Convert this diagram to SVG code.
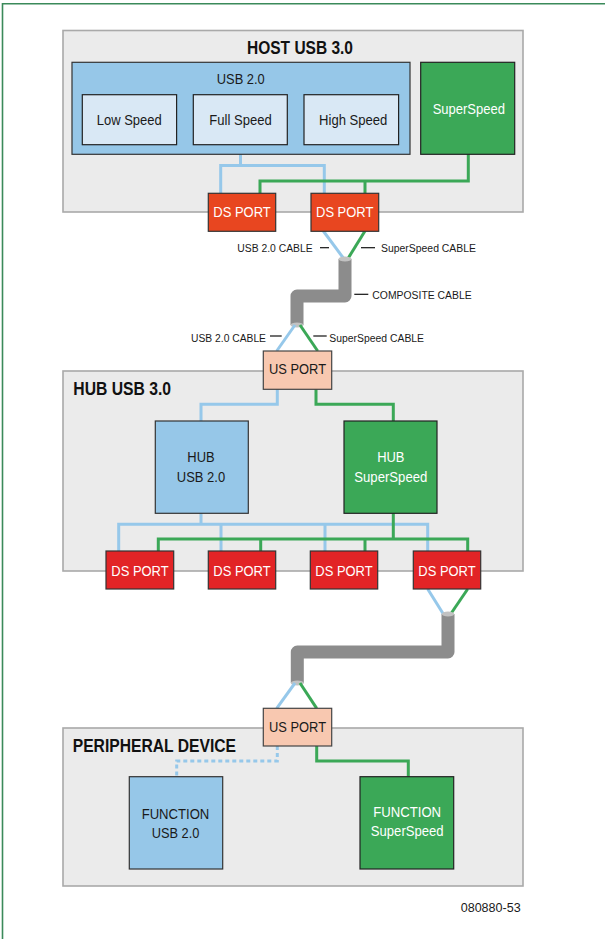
<svg xmlns="http://www.w3.org/2000/svg" width="605" height="939" viewBox="0 0 605 939">
<style>
.t{font-family:"Liberation Sans",Arial,sans-serif;text-anchor:middle;fill:#1a1a1a}
.st{text-anchor:start}
.title{font-weight:bold;font-size:17.5px;fill:#111}
.lbl{font-size:15.5px}
.sm{font-size:11.7px}
.w{fill:#ffffff}
.cont{fill:#ebebeb;stroke:#a9a9a9;stroke-width:1.6}
.blue{fill:#96c7e8;stroke:#333;stroke-width:1.2}
.inner{fill:#d9e8f5;stroke:#222;stroke-width:1.2}
.green{fill:#3ba857;stroke:#222;stroke-width:1.2}
.dsh{fill:#e84620;stroke:#333;stroke-width:1.2}
.dsr{fill:#e22426;stroke:#333;stroke-width:1.2}
.us{fill:#f8c8b0;stroke:#444;stroke-width:1.2}
.lb{fill:none;stroke:#96c8ea;stroke-width:3}
.lg{fill:none;stroke:#3ba857;stroke-width:3}
.cable{fill:none;stroke:#8c8c8c;stroke-width:13;stroke-linejoin:round}
.cap{fill:#c2c2c2}
.dash{stroke:#111;stroke-width:1.2}
</style>
<path d="M2.5,939 V3.8 H605" fill="none" stroke="#3b8a5a" stroke-width="1.6"/>

<g id="host">
<rect class="cont" x="63" y="30.5" width="460" height="181.5"/>
<text class="t title" x="300" y="53.5" textLength="106" lengthAdjust="spacingAndGlyphs">HOST USB 3.0</text>
</g>
<g id="hub">
<rect class="cont" x="63" y="371" width="460" height="200"/>
<text class="t st title" x="73.3" y="395" textLength="97.7" lengthAdjust="spacingAndGlyphs">HUB USB 3.0</text>
</g>
<g id="peripheral">
<rect class="cont" x="63" y="728" width="460" height="158"/>
<text class="t st title" x="72.7" y="751.7" textLength="163.3" lengthAdjust="spacingAndGlyphs">PERIPHERAL DEVICE</text>
</g>

<g id="connectors">
<!-- host -->
<path class="lb" d="M240.5,154 V165.5 H220.7 V193 M240.5,165.5 H324.3 V193"/>
<path class="lg" d="M468.3,154 V181 H260 V193 M365,181 V193"/>
<!-- cable 1 -->
<path class="lb" d="M323.3,231 L343.3,258"/>
<path class="lg" d="M365,231 L348.3,258"/>
<path class="cable" d="M345,259 V296 H297 V325"/>
<ellipse class="cap" cx="345" cy="259" rx="6.5" ry="2.5"/>
<ellipse class="cap" cx="297" cy="325" rx="6.5" ry="2.5"/>
<path class="lb" d="M295,325 L276.7,351"/>
<path class="lg" d="M300,325 L317.7,351"/>
<line class="dash" x1="320" y1="247.7" x2="329" y2="247.7"/>
<line class="dash" x1="361" y1="247.7" x2="375" y2="247.7"/>
<line class="dash" x1="354.3" y1="294.3" x2="368.3" y2="294.3"/>
<line class="dash" x1="270" y1="336" x2="281.7" y2="336"/>
<line class="dash" x1="313.3" y1="336" x2="326.7" y2="336"/>
<!-- hub -->
<path class="lb" d="M277.3,389 V404.3 H201 V421"/>
<path class="lg" d="M316,389 V404.3 H393.3 V421"/>
<path class="lb" d="M201,513 V524.3 M118.7,551 V524.3 H427.7 V551 M221,524.3 V551 M325,524.3 V551"/>
<path class="lg" d="M393.3,513 V539 M158.3,551 V539 H467.7 V551 M260.7,539 V551 M365,539 V551"/>
<!-- cable 2 -->
<path class="lb" d="M427.7,589 L443.3,614"/>
<path class="lg" d="M467.7,589 L450.7,614"/>
<path class="cable" d="M448,614 V652 H297.3 V683"/>
<ellipse class="cap" cx="448" cy="614" rx="6.2" ry="2.5"/>
<ellipse class="cap" cx="297.3" cy="683" rx="6.5" ry="2.5"/>
<path class="lb" d="M295,683 L276.7,708.3"/>
<path class="lg" d="M300,683 L316.7,708.3"/>
<!-- peripheral -->
<path class="lb" d="M277.3,746 V761 H176.7 V776.7" stroke-dasharray="4 3"/>
<path class="lg" d="M316.7,746 V761 H408.3 V776.7"/>
</g>

<g id="usb20">
<rect class="blue" x="72" y="62.3" width="338" height="92"/>
<text class="t lbl" x="240.8" y="84" textLength="48" lengthAdjust="spacingAndGlyphs">USB 2.0</text>
</g>
<g id="lowspeed">
<rect class="inner" x="82.3" y="94.7" width="94.3" height="50"/>
<text class="t lbl" x="129.2" y="124.5" textLength="65" lengthAdjust="spacingAndGlyphs">Low Speed</text>
</g>
<g id="fullspeed">
<rect class="inner" x="193.3" y="94.7" width="94" height="50"/>
<text class="t lbl" x="240.5" y="124.5" textLength="62.4" lengthAdjust="spacingAndGlyphs">Full Speed</text>
</g>
<g id="highspeed">
<rect class="inner" x="304" y="94.7" width="94.6" height="50"/>
<text class="t lbl" x="353.2" y="125.3" textLength="68.3" lengthAdjust="spacingAndGlyphs">High Speed</text>
</g>
<g id="superspeed">
<rect class="green" x="420.7" y="62.3" width="94" height="92"/>
<text class="t lbl w" x="468.8" y="114" textLength="72.3" lengthAdjust="spacingAndGlyphs">SuperSpeed</text>
</g>
<g id="host-ds1">
<rect class="dsh" x="208.3" y="193.3" width="67.4" height="38"/>
<text class="t lbl w" x="242" y="217" textLength="57.4" lengthAdjust="spacingAndGlyphs">DS PORT</text>
</g>
<g id="host-ds2">
<rect class="dsh" x="311" y="193.3" width="67.7" height="38"/>
<text class="t lbl w" x="344.7" y="217" textLength="57.3" lengthAdjust="spacingAndGlyphs">DS PORT</text>
</g>

<g id="cable-labels">
<text class="t sm" x="275" y="251.7" textLength="75.3" lengthAdjust="spacingAndGlyphs">USB 2.0 CABLE</text>
<text class="t sm" x="428.5" y="251.7" textLength="95" lengthAdjust="spacingAndGlyphs">SuperSpeed CABLE</text>
<text class="t sm" x="422" y="299" textLength="99.3" lengthAdjust="spacingAndGlyphs">COMPOSITE CABLE</text>
<text class="t sm" x="228.5" y="341.7" textLength="75" lengthAdjust="spacingAndGlyphs">USB 2.0 CABLE</text>
<text class="t sm" x="376.7" y="341.7" textLength="94.7" lengthAdjust="spacingAndGlyphs">SuperSpeed CABLE</text>
</g>

<g id="hub-us">
<rect class="us" x="263.3" y="351" width="68.4" height="38.3"/>
<text class="t lbl" x="297.5" y="374" textLength="57" lengthAdjust="spacingAndGlyphs">US PORT</text>
</g>
<g id="hub-usb20">
<rect class="blue" x="155.3" y="421" width="93" height="92.3"/>
<text class="t lbl" x="201" y="461.7" textLength="27.3" lengthAdjust="spacingAndGlyphs">HUB</text>
<text class="t lbl" x="201" y="481.7" textLength="48.3" lengthAdjust="spacingAndGlyphs">USB 2.0</text>
</g>
<g id="hub-ss">
<rect class="green" x="344" y="421" width="93" height="92.3"/>
<text class="t lbl w" x="390.8" y="461.7" textLength="27.3" lengthAdjust="spacingAndGlyphs">HUB</text>
<text class="t lbl w" x="390.8" y="481.7" textLength="73" lengthAdjust="spacingAndGlyphs">SuperSpeed</text>
</g>
<g id="hub-ds1">
<rect class="dsr" x="106" y="551" width="67.7" height="38"/>
<text class="t lbl w" x="140" y="575.5" textLength="57.3" lengthAdjust="spacingAndGlyphs">DS PORT</text>
</g>
<g id="hub-ds2">
<rect class="dsr" x="208.3" y="551" width="67.4" height="38"/>
<text class="t lbl w" x="242" y="575.5" textLength="57.3" lengthAdjust="spacingAndGlyphs">DS PORT</text>
</g>
<g id="hub-ds3">
<rect class="dsr" x="310.3" y="551" width="67.4" height="38"/>
<text class="t lbl w" x="344" y="575.5" textLength="57.3" lengthAdjust="spacingAndGlyphs">DS PORT</text>
</g>
<g id="hub-ds4">
<rect class="dsr" x="413.3" y="551" width="67.4" height="38"/>
<text class="t lbl w" x="447" y="575.5" textLength="57.3" lengthAdjust="spacingAndGlyphs">DS PORT</text>
</g>

<g id="dev-us">
<rect class="us" x="263.3" y="708.3" width="68.4" height="37.7"/>
<text class="t lbl" x="297.5" y="732" textLength="57" lengthAdjust="spacingAndGlyphs">US PORT</text>
</g>
<g id="func-usb20">
<rect class="blue" x="129.3" y="776.7" width="93.4" height="92.3"/>
<text class="t lbl" x="175.5" y="819" textLength="67.7" lengthAdjust="spacingAndGlyphs">FUNCTION</text>
<text class="t lbl" x="175.5" y="838.3" textLength="47.7" lengthAdjust="spacingAndGlyphs">USB 2.0</text>
</g>
<g id="func-ss">
<rect class="green" x="360" y="776.7" width="93.7" height="92.3"/>
<text class="t lbl w" x="407.2" y="816.7" textLength="67.7" lengthAdjust="spacingAndGlyphs">FUNCTION</text>
<text class="t lbl w" x="407.2" y="836" textLength="72.7" lengthAdjust="spacingAndGlyphs">SuperSpeed</text>
</g>

<text class="t" x="490.7" y="911.7" font-size="12.5" textLength="60" lengthAdjust="spacingAndGlyphs">080880-53</text>
</svg>
